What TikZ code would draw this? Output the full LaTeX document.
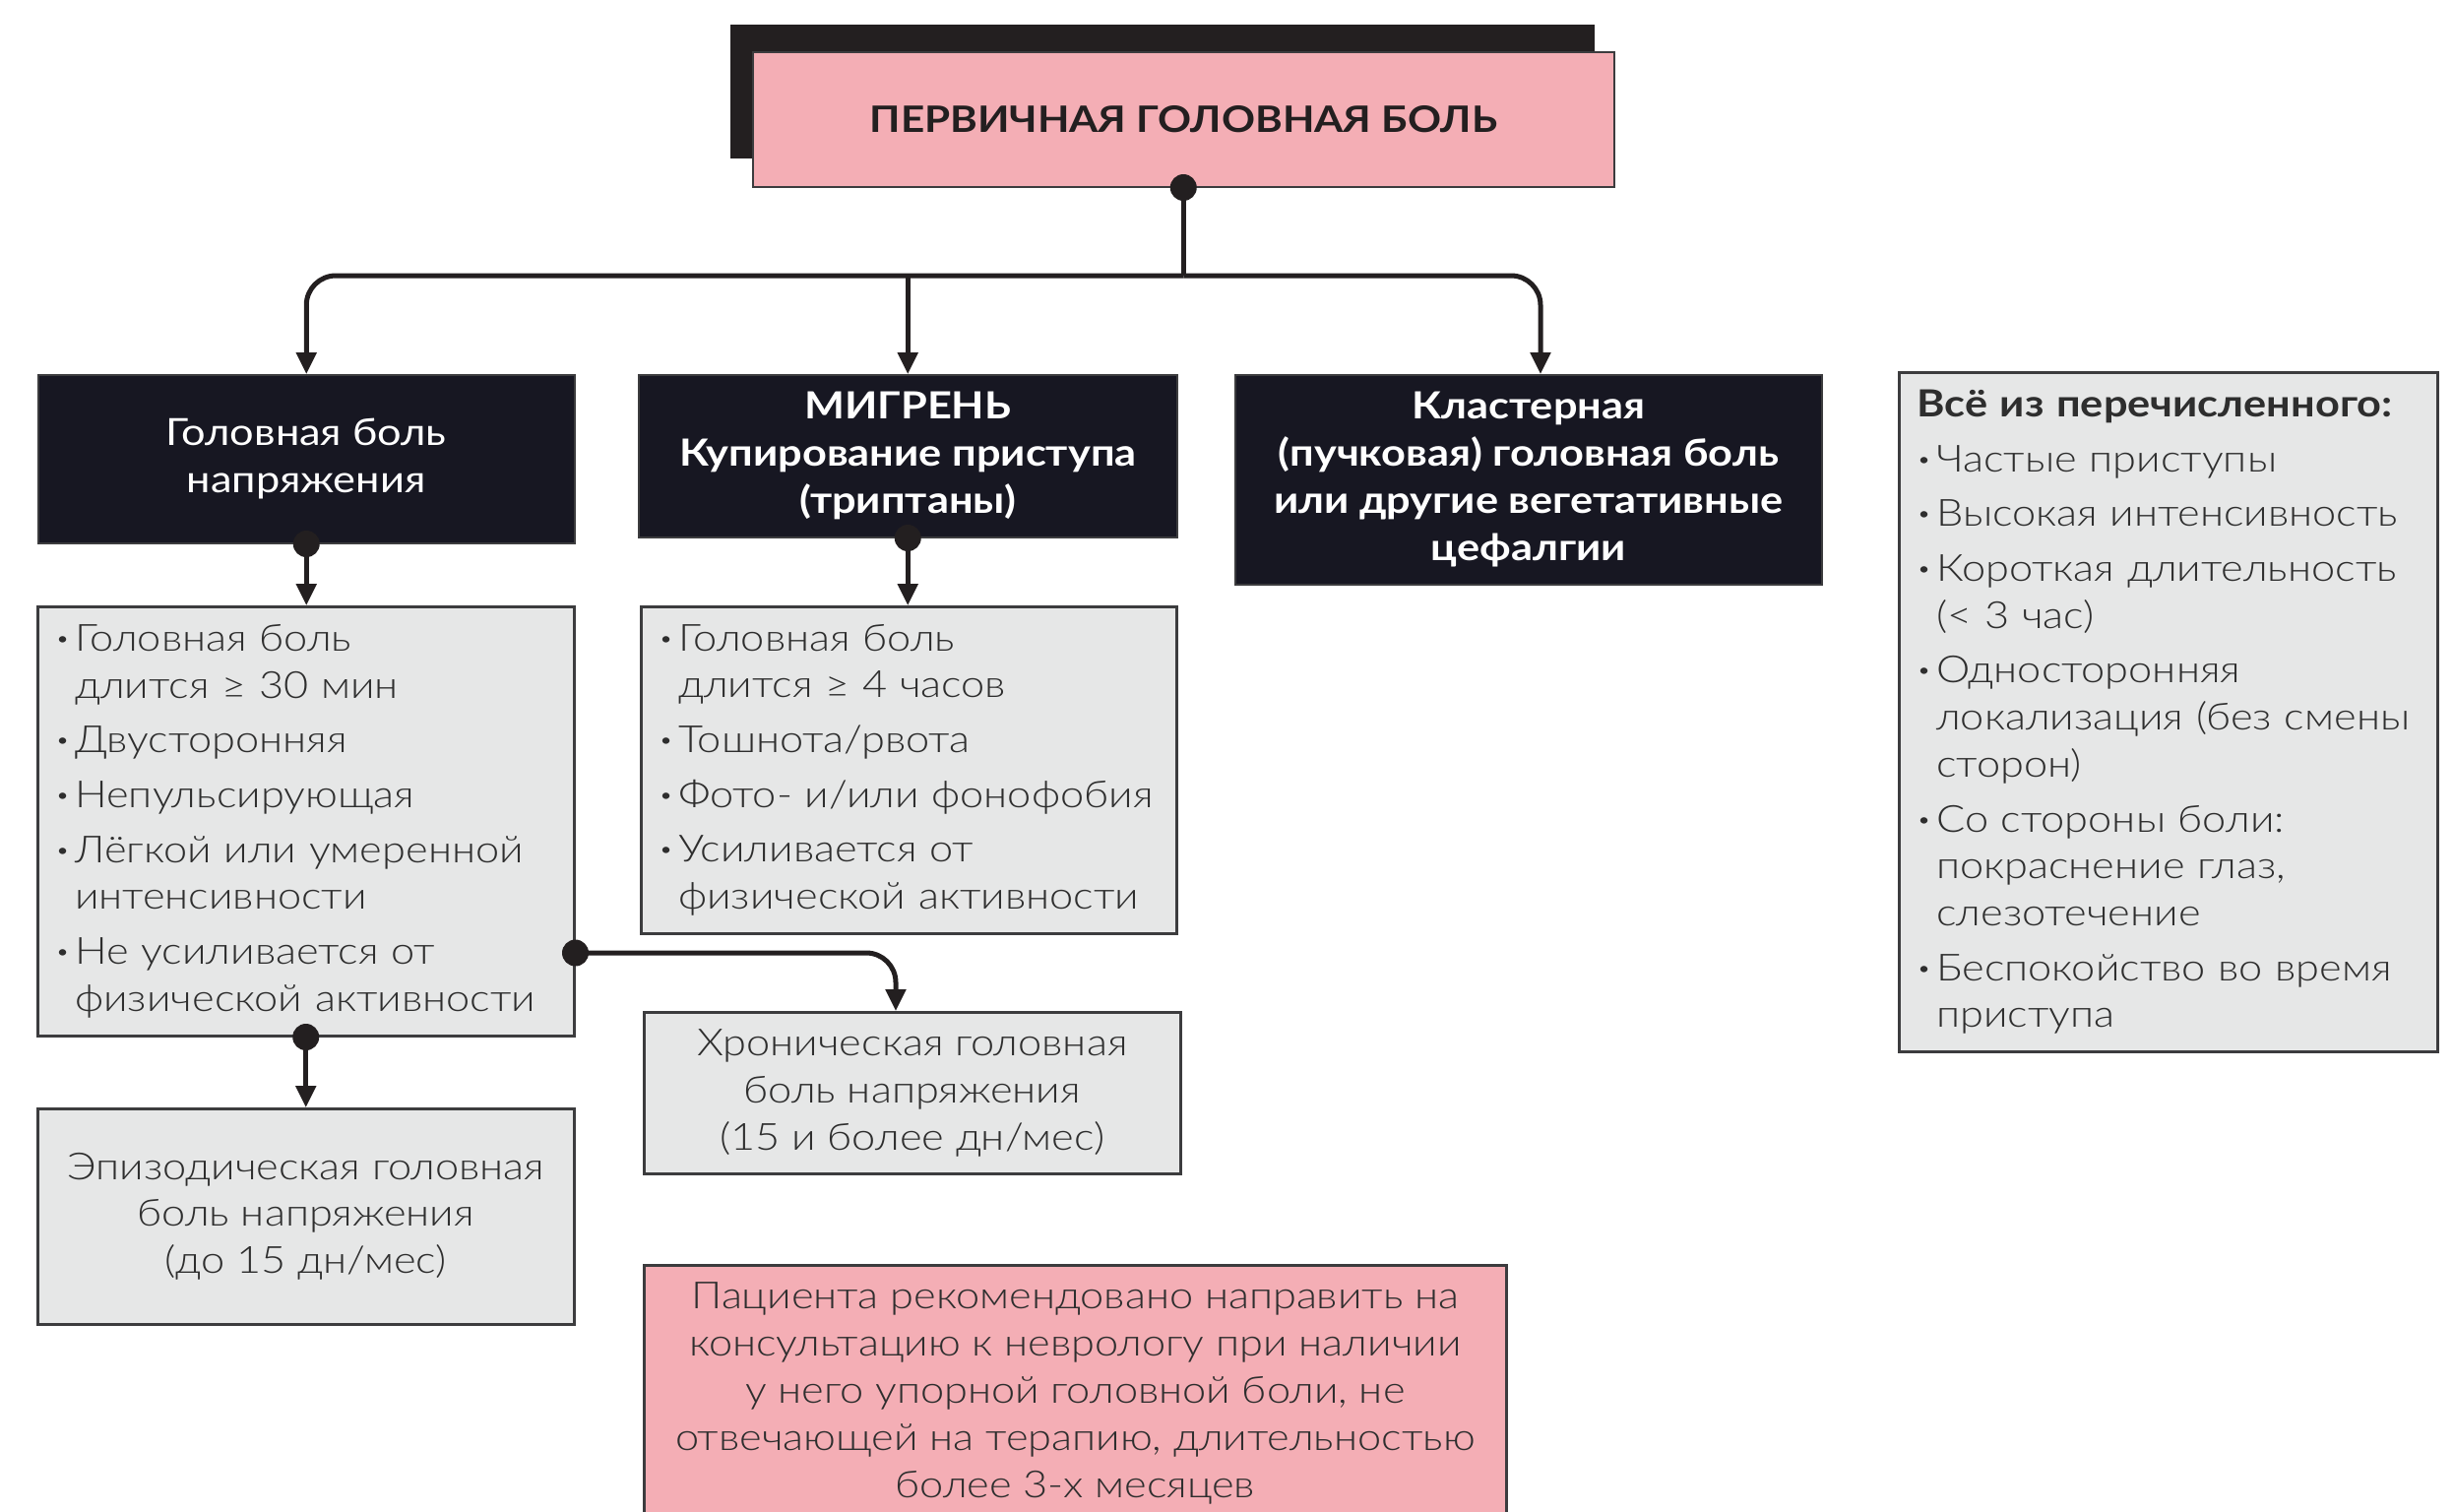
\documentclass[tikz,border=0pt]{standalone}
\usepackage{fontspec}
\setmainfont{Lato}[UprightFont=* Light, BoldFont=* Bold, FakeStretch=1.14]
\newfontfamily\regfont{Lato}[FakeStretch=1.14]
\usetikzlibrary{arrows.meta}
\definecolor{pinkf}{HTML}{F4AEB5}
\definecolor{grayf}{HTML}{E6E7E7}
\definecolor{darkf}{HTML}{171722}
\definecolor{ink}{HTML}{231F20}
\definecolor{edge}{HTML}{3C3C3E}
\definecolor{txt}{HTML}{2E2E2E}
\newcommand\bl{\makebox[20pt][l]{\raisebox{5pt}{\fontsize{22}{22}\selectfont\textbullet}}}
\newcommand\ind{\hspace*{20pt}}
\begin{document}
\begin{tikzpicture}[x=1pt,y=-1pt,
  darkbox/.style={anchor=north west,fill=darkf,draw=edge,line width=1.5pt,text=white,align=center,inner sep=0pt,font=\fontsize{38}{48}\selectfont},
  graybox/.style={anchor=north west,fill=grayf,draw=edge,line width=2.5pt,text=txt,inner xsep=18pt,inner ysep=0pt,font=\fontsize{38}{47.7}\selectfont},
  listbox/.style={graybox,align=left},
  ctrbox/.style={graybox,align=center},
  conn/.style={draw=ink,line width=5pt,rounded corners=30pt},
  arr/.style={conn,-{Triangle[length=22pt,width=20pt]}},
  dot/.style={fill=ink}
]
\useasboundingbox (0,0) rectangle (2492,1535);

% top header
\fill[ink] (742,25) rectangle (1620,161);
\node[anchor=north west,fill=pinkf,draw=edge,line width=1.5pt,minimum width=875pt,minimum height=137pt,inner sep=0pt,text=ink,font=\bfseries\fontsize{37}{44}\selectfont] (top) at (764,52) {ПЕРВИЧНАЯ ГОЛОВНАЯ БОЛЬ};

% dark boxes
\node[darkbox,minimum width=545pt,minimum height=171pt] (tth) at (38,380) {\regfont Головная боль\\\regfont напряжения};
\node[darkbox,minimum width=547pt,minimum height=165pt,font=\bfseries\fontsize{38}{48}\selectfont] (mig) at (648,380) {МИГРЕНЬ\\Купирование приступа\\(триптаны)};
\node[darkbox,minimum width=596pt,minimum height=213pt,font=\bfseries\fontsize{38}{48}\selectfont] (clu) at (1254,380) {Кластерная\\(пучковая) головная боль\\или другие вегетативные\\цефалгии};

% criteria boxes
\node[listbox,minimum width=545pt,minimum height=436pt,text width=509pt] (tthc) at (37,615) {\bl Головная боль\\\ind длится ≥ 30 мин\\[8pt]\bl Двусторонняя\\[8pt]\bl Непульсирующая\\[8pt]\bl Лёгкой или умеренной\\\ind интенсивности\\[8pt]\bl Не усиливается от\\\ind физической активности};
\node[listbox,minimum width=544pt,minimum height=332pt,text width=508pt] (migc) at (650,615) {\bl Головная боль\\\ind длится ≥ 4 часов\\[8pt]\bl Тошнота/рвота\\[8pt]\bl Фото- и/или фонофобия\\[8pt]\bl Усиливается от\\\ind физической активности};
\node[listbox,minimum width=547pt,minimum height=690pt,text width=511pt] (allc) at (1928,377) {\textbf{Всё из перечисленного:}\\[8pt]\bl Частые приступы\\[8pt]\bl Высокая интенсивность\\[8pt]\bl Короткая длительность\\\ind (< 3 час)\\[8pt]\bl Односторонняя\\\ind локализация (без смены\\\ind сторон)\\[8pt]\bl Со стороны боли:\\\ind покраснение глаз,\\\ind слезотечение\\[8pt]\bl Беспокойство во время\\\ind приступа};

\node[ctrbox,minimum width=545pt,minimum height=164pt] (chr) at (653,1027) {Хроническая головная\\боль напряжения\\(15 и более дн/мес)};
\node[ctrbox,minimum width=545pt,minimum height=219pt] (epi) at (37,1125) {Эпизодическая головная\\боль напряжения\\(до 15 дн/мес)};
\node[anchor=north west,fill=pinkf,draw=edge,line width=2.5pt,minimum width=876pt,minimum height=260pt,inner sep=0pt,align=center,text=txt,font=\fontsize{38}{47.9}\selectfont] (ref) at (653,1284) {Пациента рекомендовано направить на\\консультацию к неврологу при наличии\\у него упорной головной боли, не\\отвечающей на терапию, длительностью\\более 3-х месяцев};

% connectors
\coordinate (hub) at (top.south |- 0,280);
\coordinate (clin) at (1565,380);
\coordinate (tthout) at (tthc.east |- 0,968);
\coordinate (chrin) at (910,1027);
\draw[conn] (top.south) -- (hub);
\draw[arr] (hub) -| (tth.north);
\draw[arr] (hub) -| (clin);
\draw[arr] (mig.north |- hub) -- (mig.north);
\draw[arr] (tth.south) -- (tth.south |- tthc.north);
\draw[arr] (mig.south) -- (mig.south |- migc.north);
\draw[arr] (tthc.south) -- (tthc.south |- epi.north);
\draw[arr] (tthout) -| (chrin);
\fill[dot] (top.south) circle[radius=13.5pt];
\fill[dot] (tth.south) circle[radius=13.5pt];
\fill[dot] (mig.south) circle[radius=13.5pt];
\fill[dot] (tthc.south) circle[radius=13.5pt];
\fill[dot] (tthout) circle[radius=13.5pt];
\end{tikzpicture}
\end{document}
